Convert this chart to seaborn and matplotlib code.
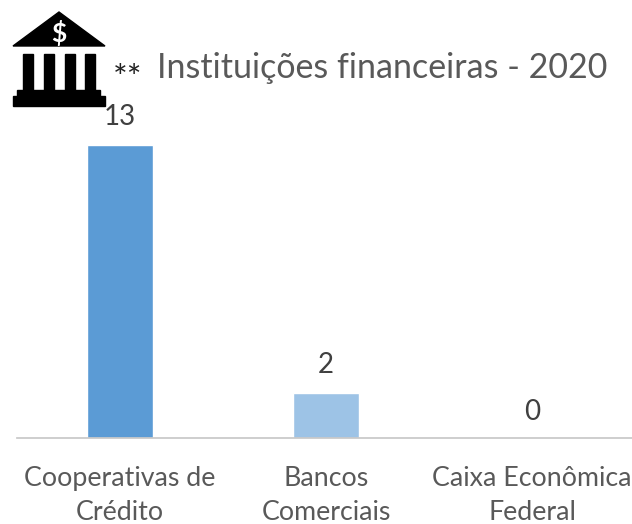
import matplotlib
matplotlib.use("Agg")
import matplotlib.pyplot as plt
from matplotlib.patches import Polygon, Rectangle
import seaborn as sns
import pandas as pd

categories = ["Cooperativas de\nCrédito", "Bancos\nComerciais", "Caixa Econômica\nFederal"]
values = [13, 2, 0]
colors = ["#5B9BD5", "#9DC3E6", "#9DC3E6"]
title = "Instituições financeiras - 2020"

sns.set_theme(style="white")
plt.rcParams['font.family'] = ['Lato', 'DejaVu Sans']
fig = plt.figure(figsize=(6.32, 5.24), dpi=100)
ax = fig.add_axes([17/632, 1-438/524, 618/632, (438-144.5)/524])
df = pd.DataFrame({"cat": categories, "val": values})
sns.barplot(data=df, x="cat", y="val", hue="cat", palette=colors, legend=False, width=0.32, ax=ax, saturation=1)
ax.set_ylim(0, 13)
ax.set_xlim(-0.5, 2.5)
ax.set_xlabel(""); ax.set_ylabel("")
ax.set_yticks([])
sns.despine(ax=ax, left=True)
ax.spines['bottom'].set_color('#C8C8C8')
ax.tick_params(axis='x', length=0, pad=20, labelsize=19.3, labelcolor='#595959')
for lbl in ax.get_xticklabels():
    lbl.set_linespacing(1.47)
for i, v in enumerate(values):
    ax.annotate(str(v), (i, v), xytext=(0, 20 if v else 19), textcoords='offset points', ha='center', va='center', fontsize=20, color='#404040')
fig.text(382/632, 1-68/524, title, ha='center', va='center', fontsize=24.5, color='#595959')
fig.text(128/632, 1-79/524, "**", ha='center', va='center', fontsize=25, color='#222222')

# bank icon (pixel coordinates)
ov = fig.add_axes([0, 0, 1, 1]); ov.set_xlim(0, 632); ov.set_ylim(524, 0); ov.axis('off'); ov.patch.set_alpha(0)
k = '#000000'
ov.add_patch(Polygon([(59, 12), (105, 46), (13, 46)], closed=True, color=k))
ov.text(59, 33, "$", color='white', ha='center', va='center', fontsize=19, fontweight='bold')
for x in [23, 44, 65, 85]:
    ov.add_patch(Rectangle((x, 54), 10, 36, color=k))
ov.add_patch(Rectangle((17, 90), 83, 6, color=k))
ov.add_patch(Rectangle((13, 96), 92, 10, color=k))
fig.savefig("out.png", dpi=100)
